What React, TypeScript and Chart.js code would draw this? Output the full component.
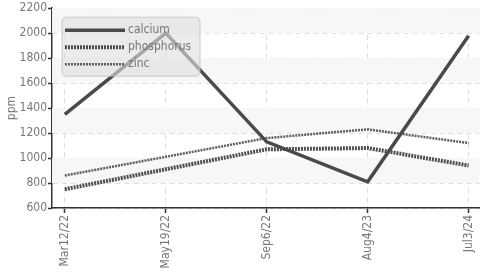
import React, { useEffect, useRef } from "react";
import { Chart, registerables } from "chart.js";

Chart.register(...registerables);

const labels = ["Mar12/22", "May19/22", "Sep6/22", "Aug4/23", "Jul3/24"];
const calcium = [1350, 2000, 1130, 810, 1980];
const phosphorus = [750, 910, 1070, 1080, 940];
const zinc = [860, 1010, 1160, 1230, 1120];
const seriesNames = ["calcium", "phosphorus", "zinc"];
const yTicks = [600, 800, 1000, 1200, 1400, 1600, 1800, 2000, 2200];

const FONT = "'DejaVu Sans Condensed', 'DejaVu Sans', sans-serif";
const TEXT = "#777777";

const bandsPlugin = {
  id: "bands",
  beforeDatasetsDraw(chart: any) {
    const { ctx, chartArea, scales } = chart;
    const y = scales.y;
    ctx.save();
    ctx.fillStyle = "#f7f7f7";
    for (let i = 0; i < yTicks.length - 1; i++) {
      if (i % 2 === 1) {
        const top = y.getPixelForValue(yTicks[i + 1]);
        const bot = y.getPixelForValue(yTicks[i]);
        ctx.fillRect(chartArea.left, top, chartArea.right - chartArea.left, bot - top);
      }
    }
    ctx.restore();
  },
};

const legendPlugin = {
  id: "boxLegend",
  afterDatasetsDraw(chart: any) {
    const { ctx, chartArea } = chart;
    const x0 = chartArea.left + 10;
    const y0 = chartArea.top + 9;
    const w = 138;
    const h = 59;
    ctx.save();
    ctx.beginPath();
    const r = 5;
    ctx.moveTo(x0 + r, y0);
    ctx.lineTo(x0 + w - r, y0);
    ctx.quadraticCurveTo(x0 + w, y0, x0 + w, y0 + r);
    ctx.lineTo(x0 + w, y0 + h - r);
    ctx.quadraticCurveTo(x0 + w, y0 + h, x0 + w - r, y0 + h);
    ctx.lineTo(x0 + r, y0 + h);
    ctx.quadraticCurveTo(x0, y0 + h, x0, y0 + h - r);
    ctx.lineTo(x0, y0 + r);
    ctx.quadraticCurveTo(x0, y0, x0 + r, y0);
    ctx.closePath();
    ctx.fillStyle = "rgba(222,222,222,0.62)";
    ctx.fill();
    ctx.lineWidth = 1;
    ctx.strokeStyle = "rgba(190,190,190,0.8)";
    ctx.stroke();
    chart.data.datasets.forEach((ds: any, i: number) => {
      const yy = y0 + 13 + i * 17;
      ctx.beginPath();
      ctx.setLineDash(ds.borderDash || []);
      ctx.lineWidth = ds.borderWidth;
      ctx.strokeStyle = ds.borderColor;
      ctx.moveTo(x0 + 3, yy);
      ctx.lineTo(x0 + 63, yy);
      ctx.stroke();
      ctx.setLineDash([]);
      ctx.fillStyle = TEXT;
      ctx.font = "12px " + FONT;
      ctx.textBaseline = "middle";
      ctx.textAlign = "left";
      ctx.fillText(ds.label, x0 + 66, yy);
    });
    ctx.restore();
  },
};

export default function App() {
  const ref = useRef<HTMLCanvasElement>(null);
  useEffect(() => {
    const mk = (vals: number[]) => vals.map((v, i) => ({ x: i, y: v }));
    const chart = new Chart(ref.current!, {
      type: "line",
      data: {
        datasets: [
          {
            label: seriesNames[0],
            data: mk(calcium),
            borderColor: "#4a4a4a",
            borderWidth: 3.5,
            pointRadius: 0,
            tension: 0,
          },
          {
            label: seriesNames[1],
            data: mk(phosphorus),
            borderColor: "#4e4e4e",
            borderWidth: 4,
            borderDash: [2, 1],
            pointRadius: 0,
            tension: 0,
          },
          {
            label: seriesNames[2],
            data: mk(zinc),
            borderColor: "#5e5e5e",
            borderWidth: 2.5,
            borderDash: [2, 1],
            pointRadius: 0,
            tension: 0,
          },
        ],
      },
      options: {
        animation: false,
        responsive: false,
        devicePixelRatio: 1,
        layout: { padding: { top: 7, right: 0, left: 0, bottom: 0 } },
        plugins: { legend: { display: false }, tooltip: { enabled: false } },
        scales: {
          x: {
            type: "linear",
            min: -0.127,
            max: 4.108,
            afterBuildTicks: (s: any) => {
              s.ticks = labels.map((_, i) => ({ value: i }));
            },
            afterFit: (s: any) => {
              s.height = 65;
            },
            ticks: {
              callback: (v: any) => labels[v] ?? "",
              minRotation: 90,
              maxRotation: 90,
              color: TEXT,
              font: { family: FONT, size: 12 },
              padding: 2,
            },
            grid: {
              color: "#dcdcdc",
              tickColor: "#333",
              tickLength: 5,
              tickWidth: 1.5,
              tickBorderDash: [],
            },
            border: { color: "#333", width: 1.5, dash: [5, 4] },
          },
          y: {
            min: 600,
            max: 2200,
            afterBuildTicks: (s: any) => {
              s.ticks = yTicks.map((v) => ({ value: v }));
            },
            afterFit: (s: any) => {
              s.width = 52;
            },
            ticks: {
              callback: (v: any) => String(v),
              color: TEXT,
              font: { family: FONT, size: 12 },
              padding: 1,
            },
            title: {
              display: true,
              text: "ppm",
              color: TEXT,
              font: { family: FONT, size: 12 },
              padding: { top: 5, bottom: 0 },
            },
            grid: {
              color: "#dcdcdc",
              tickColor: "#333",
              tickLength: 4,
              tickWidth: 1.5,
              tickBorderDash: [],
            },
            border: { color: "#333", width: 1.5, dash: [5, 4] },
          },
        },
      },
      plugins: [bandsPlugin, legendPlugin],
    } as any);
    return () => chart.destroy();
  }, []);
  return (
    <div style={{ position: "fixed", left: 0, top: 0, width: 485, height: 273, background: "#fff" }}>
      <canvas ref={ref} width={485} height={273} style={{ display: "block" }} />
    </div>
  );
}
